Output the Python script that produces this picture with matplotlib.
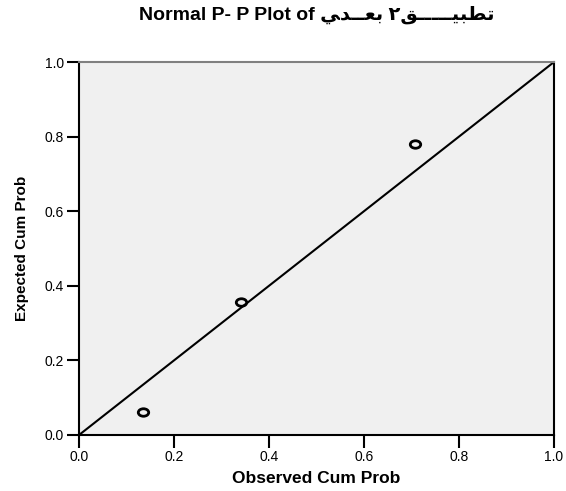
"""
Normal P-P plot (estilo SPSS)
"""
import matplotlib
matplotlib.use('Agg')
import matplotlib.pyplot as plt
from matplotlib.path import Path
from matplotlib.transforms import Affine2D

# Dados
obs_cum = [0.134, 0.342, 0.707]
exp_cum = [0.061, 0.356, 0.781]
ref_line = [0.0, 1.0]
ticks = [0.0, 0.2, 0.4, 0.6, 0.8, 1.0]
tick_labels = ['0.0', '0.2', '0.4', '0.6', '0.8', '1.0']

# titulo: arabe em formas de apresentacao, ordem visual
titulo = ('Normal P- P Plot of '
          '\uFEF2\uFEAA\u0640\u0640\uFECC\uFE91 '
          '\u0662\uFED6\u0640\u0640\u0640\u0640\u0640\uFEF4\uFE92\uFEC4\uFE97')

fontes = ['Liberation Sans', 'DejaVu Sans']
plt.rcParams['font.family'] = fontes

fig = plt.figure(figsize=(5.66, 4.91), dpi=100)
ax = fig.add_axes([79/566, 1 - 435/491, 475/566, 373/491])
ax.set_facecolor('#f0f0f0')

# marcador eliptico vazado
elipse = Path.unit_circle().transformed(Affine2D().scale(1.0, 0.72))

ax.plot(ref_line, ref_line, color='black', lw=1.5)
ax.plot(obs_cum, exp_cum, linestyle='none', marker=elipse, markersize=7.5,
        markerfacecolor='none', markeredgecolor='black', markeredgewidth=2.0)

ax.set_xlim(0, 1)
ax.set_ylim(0, 1)
ax.set_xticks(ticks)
ax.set_xticklabels(tick_labels)
ax.set_yticks(ticks)
ax.set_yticklabels(tick_labels)
ax.tick_params(direction='out', length=9, width=1.5, labelsize=10, pad=2)

for s in ['left', 'bottom', 'right']:
    ax.spines[s].set_color('black')
    ax.spines[s].set_linewidth(1.5)
ax.spines['top'].set_color('#808080')
ax.spines['top'].set_linewidth(1.5)

ax.set_xlabel('Observed Cum Prob', fontsize=12.5, fontweight='bold', labelpad=5)
ax.set_ylabel('Expected Cum Prob', fontsize=11, fontweight='bold', labelpad=11)

fig.text((79 + 237.5) / 566, 1 - 15/491, titulo, ha='center', va='center',
         fontsize=14, fontweight='bold', family=fontes)

fig.savefig('out.png', dpi=100)
